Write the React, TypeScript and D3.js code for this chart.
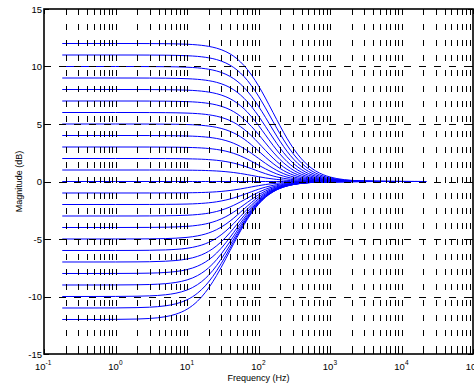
import React from "react";
import * as d3 from "d3";

// Shelving-filter gains (dB) of each drawn curve
const GAINS_DB = [-12, -11, -10, -9, -8, -7, -6, -5, -4, -3, -2, -1, 0, 1, 2, 3, 4, 5, 6, 7, 8, 9, 10, 11, 12];
// Filter parameters
const CUTOFF_HZ = 80;
const SAMPLE_RATE = 44100;
// Frequencies (Hz) at which each curve is evaluated
const FREQS = [0.18, 0.5, 1, 2, 3, 5, 7, 10, 12, 14, 16, 18, 20, 23, 26, 30, 35, 40, 45, 50, 56, 63, 70, 80, 90, 100, 112, 125, 140, 160, 180, 200, 225, 250, 280, 315, 355, 400, 450, 500, 560, 630, 710, 800, 900, 1000, 1250, 1600, 2000, 2500, 3150, 4000, 5000, 7000, 10000, 15000, 22050];
// Axis ticks
const X_DECADES = [-1, 0, 1, 2, 3, 4, 5];
const Y_TICKS = [-15, -10, -5, 0, 5, 10, 15];
const Y_GRID = [-10, -5, 0, 5, 10];

const W = 474, H = 389;
const L = 44, R = 473, T = 9, B = 354;

// first-order low shelving filter (all-pass based, same all-pass for boost and cut)
function magDb(f: number, g: number) {
  const t = Math.tan(Math.PI * CUTOFF_HZ / SAMPLE_RATE);
  const a = (t - 1) / (t + 1);
  const V = Math.pow(10, g / 20);
  const H0 = V - 1;
  const w = 2 * Math.PI * f / SAMPLE_RATE;
  const zr = Math.cos(w), zi = -Math.sin(w); // z^-1
  // A = (z^-1 + a)/(1 + a z^-1)
  const nr = zr + a, ni = zi;
  const dr = 1 + a * zr, di = a * zi;
  const den = dr * dr + di * di;
  const Ar = (nr * dr + ni * di) / den;
  const Ai = (ni * dr - nr * di) / den;
  const Hr = 1 + (H0 / 2) * (1 + Ar);
  const Hi = (H0 / 2) * Ai;
  return 10 * Math.log10(Hr * Hr + Hi * Hi);
}

export default function App() {
  const x = d3.scaleLog().domain([0.1, 1e5]).range([L, R]);
  const y = d3.scaleLinear().domain([-15, 15]).range([B, T]);
  const line = d3
    .line<number>()
    .x((f) => x(f))
    .y((f, i, arr) => 0)
    .curve(d3.curveMonotoneX);

  const font = "'Liberation Sans', Arial, Helvetica, sans-serif";
  const px = (v: number) => Math.round(v) + 0.5;

  const minorX: number[] = [];
  for (let k = -1; k <= 4; k++) for (let m = 1; m <= 9; m++) minorX.push(m * Math.pow(10, k));
  minorX.push(1e5);

  return (
    <svg width={W} height={H} style={{ position: "fixed", left: 0, top: 0, background: "#fff" }}>
      <rect x={0} y={0} width={W} height={H} fill="#fff" />
      {/* curves */}
      <g fill="none" stroke="#0000ff" strokeWidth={1}>
        {GAINS_DB.map((g) => {
          const gen = d3
            .line<number>()
            .x((f) => x(f))
            .y((f) => y(magDb(f, g)))
            .curve(d3.curveMonotoneX);
          return <path key={g} d={gen(FREQS) || ""} />;
        })}
      </g>
      {/* vertical grid */}
      <g stroke="#000" strokeWidth={1} shapeRendering="crispEdges" strokeDasharray="6 9.3">
        {minorX
          .filter((f) => f > 0.1 && f < 1e5)
          .map((f, i) => (
            <line key={i} x1={px(x(f))} x2={px(x(f))} y1={T} y2={B} />
          ))}
      </g>
      {/* horizontal grid */}
      <g stroke="#000" strokeWidth={1} shapeRendering="crispEdges" strokeDasharray="7 8">
        {Y_GRID.map((v) => (
          <line key={v} x1={L} x2={R} y1={px(y(v))} y2={px(y(v))} />
        ))}
      </g>
      {/* ticks */}
      <g stroke="#000" strokeWidth={1} shapeRendering="crispEdges">
        {Y_TICKS.map((v) => (
          <g key={v}>
            <line x1={L} x2={L + 5} y1={px(y(v))} y2={px(y(v))} />
            <line x1={R - 5} x2={R} y1={px(y(v))} y2={px(y(v))} />
          </g>
        ))}
        {minorX.map((f, i) => {
          const major = Math.abs(Math.log10(f) - Math.round(Math.log10(f))) < 1e-9;
          const len = major ? 5 : 3;
          return (
            <g key={i}>
              <line x1={px(x(f))} x2={px(x(f))} y1={B} y2={B - len} />
              <line x1={px(x(f))} x2={px(x(f))} y1={T} y2={T + len} />
            </g>
          );
        })}
      </g>
      {/* box */}
      <rect x={L} y={T} width={R - L} height={B - T} fill="none" stroke="#000" strokeWidth={1.6} />
      {/* y tick labels */}
      <g fontFamily={font} fontSize={9.5} fill="#000" textAnchor="end">
        {Y_TICKS.map((v) => (
          <text key={v} x={L - 2} y={y(v) + 3.5}>
            {v}
          </text>
        ))}
      </g>
      {/* x tick labels */}
      <g fontFamily={font} fill="#000">
        {X_DECADES.map((k) => {
          const cx = x(Math.pow(10, k));
          const sup = String(k);
          const supW = sup.length * 3.8;
          const baseW = 10.6;
          const start = cx - (baseW + supW) / 2;
          return (
            <g key={k}>
              <text x={start} y={370} fontSize={9.5}>
                10
              </text>
              <text x={start + baseW} y={365} fontSize={6.5}>
                {sup}
              </text>
            </g>
          );
        })}
      </g>
      <text x={(L + R) / 2} y={381} fontFamily={font} fontSize={9} textAnchor="middle">
        Frequency (Hz)
      </text>
      <text
        transform={`translate(22,${(T + B) / 2}) rotate(-90)`}
        fontFamily={font}
        fontSize={9}
        textAnchor="middle"
      >
        Magnitude (dB)
      </text>
    </svg>
  );
}
